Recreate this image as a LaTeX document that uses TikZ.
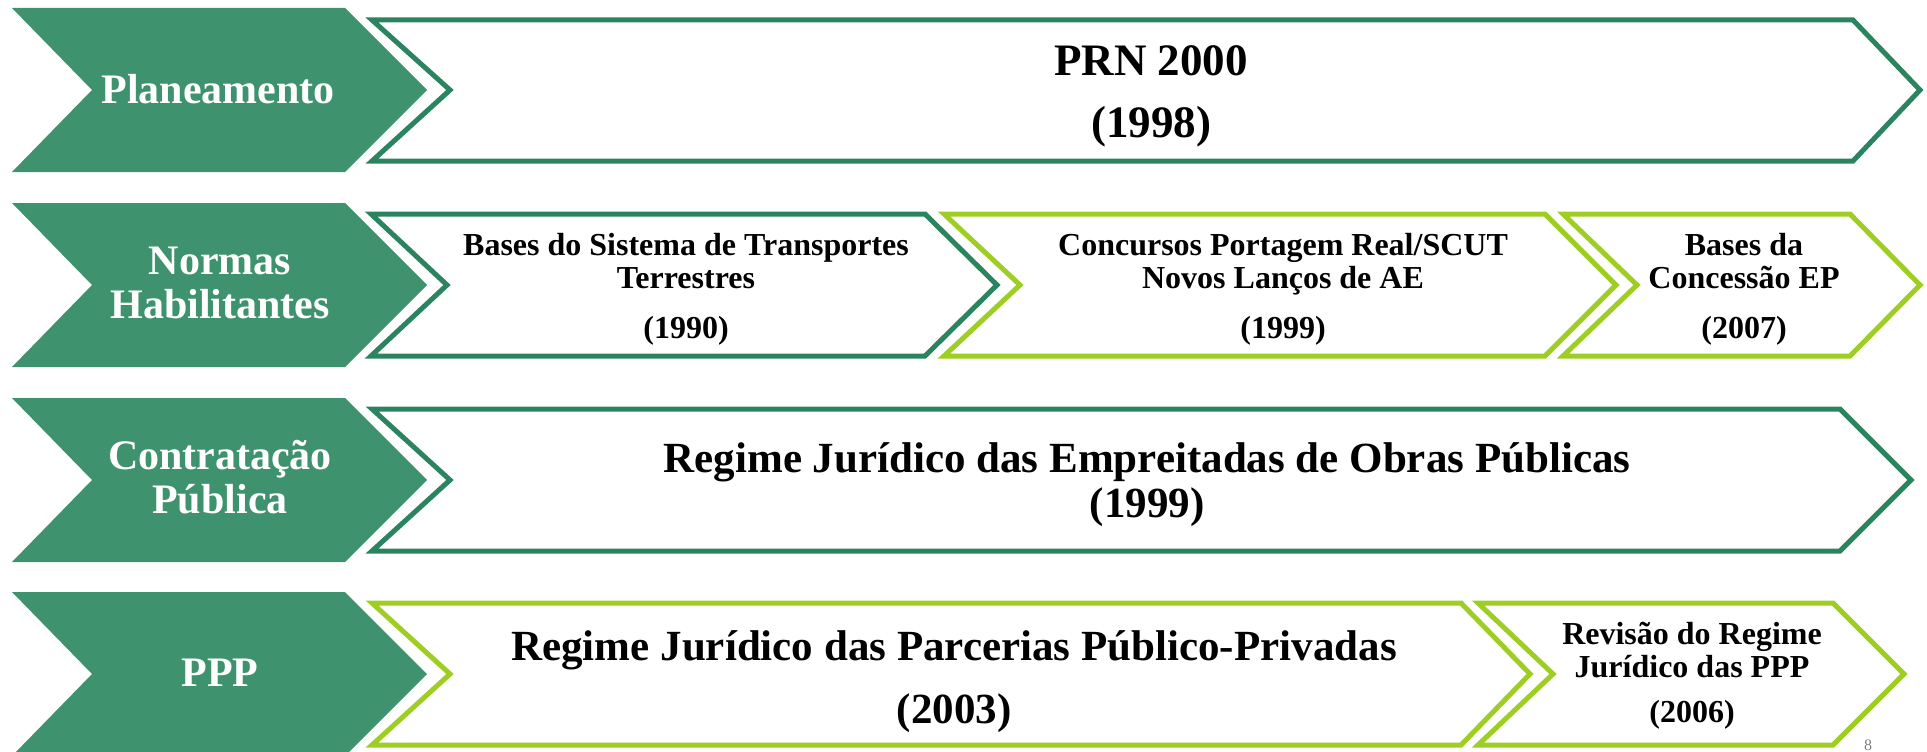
\documentclass[tikz,border=0pt]{standalone}
\usepackage{fontspec}
\setmainfont{Liberation Serif}

\definecolor{labelgreen}{RGB}{62,146,110}
\definecolor{tealline}{RGB}{42,132,96}
\definecolor{limeline}{RGB}{158,206,36}

\tikzset{
  tag/.style={fill=labelgreen, draw=none},
  tealbox/.style={draw=tealline, line width=5pt, fill=white},
  limebox/.style={draw=limeline, line width=5pt, fill=white},
  tagtxt/.style={text=white, font=\bfseries\fontsize{42}{44}\selectfont, align=center, inner sep=0pt},
  bigtxt/.style={font=\bfseries\fontsize{45}{45}\selectfont, align=center, inner sep=0pt},
  midtxt/.style={font=\bfseries\fontsize{43}{45}\selectfont, align=center, inner sep=0pt},
  smalltxt/.style={font=\bfseries\fontsize{32}{33}\selectfont, align=center, inner sep=0pt}
}

\begin{document}
\begin{tikzpicture}[x=1pt,y=-1pt]
        \useasboundingbox (0,0) rectangle (1927,752);
        \draw[tag] (12,8) -- (345,8) -- (427,90) -- (345,172) -- (12,172) -- (92,90) -- cycle;          % row 1
        \draw[tag] (12,203) -- (345,203) -- (427,285) -- (345,367) -- (12,367) -- (92,285) -- cycle;    % row 2
        \draw[tag] (12,398) -- (345,398) -- (427,480) -- (345,562) -- (12,562) -- (92,480) -- cycle;    % row 3
        \draw[tag] (12,592) -- (345,592) -- (427,674) -- (345,756) -- (12,756) -- (92,674) -- cycle;    % row 4
        \draw[tealbox] (372,20) -- (1853,20) -- (1920,90) -- (1853,161) -- (372,161) -- (450,90) -- cycle;       % PRN
        \draw[tealbox] (371,214) -- (925,214) -- (997,285) -- (925,356) -- (371,356) -- (447,285) -- cycle;     % bases
        \draw[limebox] (944,214) -- (1545,214) -- (1616,285) -- (1545,356) -- (944,356) -- (1020,285) -- cycle; % concursos
        \draw[limebox] (1563,214) -- (1850,214) -- (1920,285) -- (1850,356) -- (1563,356) -- (1637,285) -- cycle; % EP
        \draw[tealbox] (372,409) -- (1840,409) -- (1911,480) -- (1840,551) -- (372,551) -- (450,480) -- cycle;   % obras
        \draw[limebox] (372,603) -- (1461,603) -- (1530,674) -- (1461,745) -- (372,745) -- (450,674) -- cycle;   % PPP
        \draw[limebox] (1478,603) -- (1833,603) -- (1904,674) -- (1833,745) -- (1478,745) -- (1553,674) -- cycle; % revisao
        \node[tagtxt](plan) at (218,89)  {Planeamento};
        \node[tagtxt](normas) at (220,283)  {Normas\\Habilitantes};
        \node[tagtxt](contr) at (220,477)  {Contratação\\Pública};
        \node[tagtxt](ppp) at (220,673)  {PPP};
        \node[bigtxt](prn) at (1151,96)  {PRN 2000\\[17pt](1998)};
        \node[smalltxt](bases) at (686,289)  {Bases do Sistema de Transportes\\Terrestres\\[17pt](1990)};
        \node[smalltxt](concursos) at (1283,289)  {Concursos Portagem Real/SCUT\\Novos Lanços de AE\\[17pt](1999)};
        \node[smalltxt](concessao) at (1744,289)  {Bases da\\Concessão EP\\[17pt](2007)};
        \node[midtxt](obras) at (1147,485)  {Regime Jurídico das Empreitadas de Obras Públicas\\(1999)};
        \node[midtxt](regppp) at (954,682)  {Regime Jurídico das Parcerias Público-Privadas\\[18pt](2003)};
        \node[smalltxt](revisao) at (1692,676)  {Revisão do Regime\\Jurídico das PPP\\[12pt](2006)};
        \node[anchor=base, text=gray, font=\fontsize{16}{16}\selectfont](pagenum) at (1868,750)  {8};

    \end{tikzpicture}
\end{document}
